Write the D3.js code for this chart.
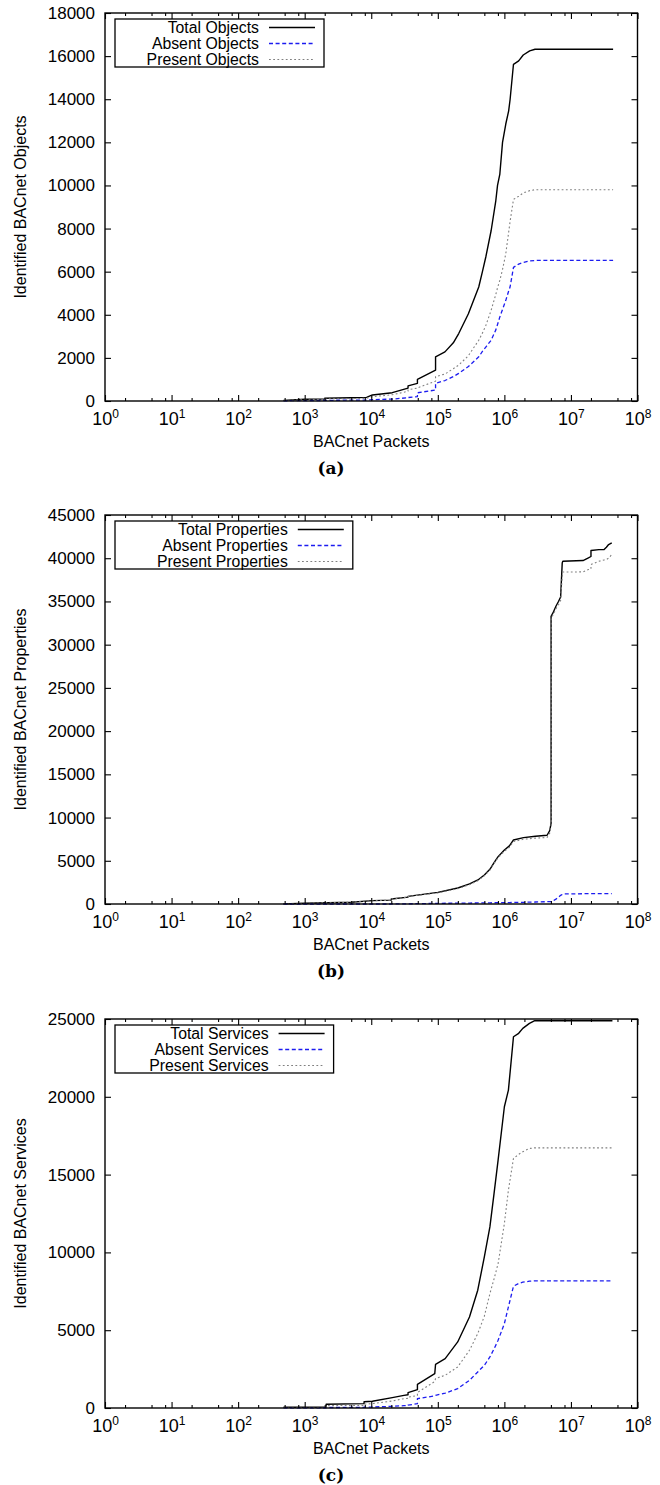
<!DOCTYPE html>
<html>
<head>
<meta charset="utf-8">
<script src="https://cdn.jsdelivr.net/npm/d3@7"></script>
<style>
  html, body { margin: 0; padding: 0; background: #fff; }
  svg { display: block; }
  text { font-family: "Liberation Sans", Arial, Helvetica, sans-serif; fill: #000; }
</style>
</head>
<body>
<script>
// ---------------- DATA ----------------
const xExponents = [0, 1, 2, 3, 4, 5, 6, 7, 8];
const minorMultipliers = [2, 5, 8];

const objYTicks = [0, 2000, 4000, 6000, 8000, 10000, 12000, 14000, 16000, 18000];
const propYTicks = [0, 5000, 10000, 15000, 20000, 25000, 30000, 35000, 40000, 45000];
const svcYTicks = [0, 5000, 10000, 15000, 20000, 25000];

const objLegend = ["Total Objects", "Absent Objects", "Present Objects"];
const propLegend = ["Total Properties", "Absent Properties", "Present Properties"];
const svcLegend = ["Total Services", "Absent Services", "Present Services"];

const yTitles = ["Identified BACnet Objects", "Identified BACnet Properties", "Identified BACnet Services"];
const xTitle = "BACnet Packets";
const captions = ["(a)", "(b)", "(c)"];

// Panel (a) objects
const objPackets = [480, 1000, 2000, 2000, 5000, 8500, 10400, 20700, 35700, 35700, 49400, 49400, 92500, 92500, 128000, 171000, 206000, 288000, 412000, 468000, 526000, 633000, 744000, 789000, 855000, 938000, 1050000, 1160000, 1220000, 1370000, 1640000, 1920000, 2400000, 2890000, 43000000];
const objTotal = [30, 80, 90, 130, 150, 170, 280, 385, 600, 700, 820, 1000, 1430, 2050, 2280, 2700, 3130, 4050, 5290, 6000, 6680, 7910, 9300, 10000, 10530, 12000, 12850, 13460, 14000, 15620, 15780, 16050, 16240, 16320, 16320];
const objAbsent = [10, 20, 25, 30, 40, 45, 60, 90, 150, 160, 200, 380, 510, 820, 950, 1130, 1280, 1600, 2050, 2300, 2500, 2820, 3300, 3550, 3900, 4250, 4670, 5100, 5300, 6200, 6350, 6430, 6500, 6520, 6520];
const objPresent = [20, 60, 65, 100, 110, 125, 200, 290, 450, 520, 600, 610, 920, 1130, 1250, 1500, 1665, 2100, 2820, 3150, 3500, 4210, 4950, 5250, 5600, 6100, 6830, 7830, 8340, 9350, 9500, 9650, 9760, 9800, 9800];

// Panel (b) properties
const propPackets = [480, 1000, 5000, 10400, 20000, 20000, 35700, 35700, 100000, 200000, 300000, 400000, 500000, 606000, 700000, 805000, 1000000, 1190000, 1370000, 1940000, 2930000, 4380000, 4800000, 5030000, 5030000, 5370000, 5950000, 6530000, 7000000, 7400000, 7550000, 15200000, 18300000, 20000000, 20000000, 26300000, 31500000, 34100000, 36800000, 41000000];
const propTotal = [20, 80, 200, 386, 450, 580, 800, 880, 1350, 1850, 2320, 2780, 3360, 4015, 4790, 5480, 6255, 6720, 7410, 7680, 7840, 7950, 8490, 9340, 33280, 33670, 34440, 35020, 35520, 39460, 39650, 39730, 40040, 40200, 40890, 41000, 41004, 41270, 41580, 41780];
const propAbsent = [0, 0, 0, 0, 0, 10, 15, 20, 77, 95, 110, 120, 130, 140, 145, 150, 154, 165, 175, 193, 232, 265, 270, 280, 280, 350, 560, 800, 1004, 1100, 1158, 1190, 1195, 1197, 1197, 1197, 1197, 1197, 1197, 1197];
const propPresent = [20, 80, 200, 380, 440, 570, 790, 870, 1280, 1780, 2240, 2700, 3270, 3920, 4690, 5360, 6100, 6550, 7230, 7490, 7620, 7700, 8200, 9060, 33090, 33450, 34150, 34650, 35100, 37900, 38400, 38420, 38690, 38750, 39270, 39650, 39800, 39850, 40000, 40420];

// Panel (c) services
const svcPackets = [480, 2100, 2100, 7800, 7800, 10400, 20700, 31000, 35700, 35700, 49400, 49400, 90000, 92500, 129000, 199000, 299000, 398000, 500000, 606000, 700000, 805000, 1000000, 1150000, 1370000, 1640000, 1890000, 2380000, 2860000, 42000000];
const svcTotal = [50, 60, 240, 280, 400, 430, 665, 815, 850, 990, 1180, 1520, 2210, 2810, 3170, 4245, 5850, 7570, 9710, 11640, 13790, 15930, 19360, 20430, 23860, 24080, 24400, 24720, 24890, 24890];
const svcAbsent = [10, 15, 30, 40, 60, 64, 107, 150, 160, 180, 279, 600, 780, 815, 950, 1244, 1780, 2316, 2744, 3280, 3800, 4352, 5424, 6496, 7826, 8000, 8083, 8148, 8169, 8169];
const svcPresent = [30, 40, 150, 170, 250, 280, 450, 600, 620, 700, 800, 1000, 1700, 1900, 2100, 2640, 3710, 4780, 5900, 7350, 8300, 9280, 11860, 14000, 16040, 16300, 16470, 16680, 16720, 16720];

// ---------------- LAYOUT ----------------
const W = 660, H = 1485;
const plotLeft = 105, plotRight = 637.5;
const panelTops = [13, 515, 1019];
const panelBottoms = [401, 904, 1408];

const panels = [
  { yTicks: objYTicks, legend: objLegend, x: objPackets, series: [objTotal, objAbsent, objPresent] },
  { yTicks: propYTicks, legend: propLegend, x: propPackets, series: [propTotal, propAbsent, propPresent] },
  { yTicks: svcYTicks, legend: svcLegend, x: svcPackets, series: [svcTotal, svcAbsent, svcPresent] }
];

const styles = [
  { stroke: "#000000", width: 1.4, dash: null },
  { stroke: "#1c1cf0", width: 1.3, dash: "4,2.6" },
  { stroke: "#808080", width: 1.1, dash: "1.8,2.4" }
];

const svg = d3.select("body").append("svg").attr("width", W).attr("height", H);

const majorVals = xExponents.map(e => Math.pow(10, e));
const minorVals = [];
xExponents.slice(0, -1).forEach(e => minorMultipliers.forEach(m => minorVals.push(m * Math.pow(10, e))));

panels.forEach((p, i) => {
  const top = panelTops[i], bottom = panelBottoms[i];
  const x = d3.scaleLog().domain([1, 1e8]).range([plotLeft, plotRight]);
  const y = d3.scaleLinear().domain([0, d3.max(p.yTicks)]).range([bottom, top]);
  const g = svg.append("g");

  // curves
  const line = d3.line().x(d => x(d[0])).y(d => y(d[1]));
  p.series.forEach((vals, k) => {
    const pts = p.x.map((xv, j) => [xv, vals[j]]);
    const path = g.append("path").datum(pts)
      .attr("d", line)
      .attr("fill", "none")
      .attr("stroke", styles[k].stroke)
      .attr("stroke-width", styles[k].width)
      .attr("stroke-linejoin", "round");
    if (styles[k].dash) path.attr("stroke-dasharray", styles[k].dash);
  });

  // bottom axis major
  const gb = g.append("g").attr("transform", `translate(0,${bottom})`)
    .call(d3.axisBottom(x).tickValues(majorVals).tickSize(-6).tickPadding(11).tickFormat(() => ""));
  gb.select(".domain").remove();
  gb.selectAll(".tick text").each(function(d) {
    const t = d3.select(this).attr("font-size", 18).attr("dy", "0.71em");
    t.append("tspan").text("10");
    t.append("tspan").attr("font-size", 12).attr("dy", "-0.55em").text(String(Math.round(Math.log10(d))));
  });
  const gbm = g.append("g").attr("transform", `translate(0,${bottom})`)
    .call(d3.axisBottom(x).tickValues(minorVals).tickSize(-3).tickFormat(() => ""));
  gbm.select(".domain").remove();

  // top axis
  const gt = g.append("g").attr("transform", `translate(0,${top})`)
    .call(d3.axisTop(x).tickValues(majorVals).tickSize(-6).tickFormat(() => ""));
  gt.select(".domain").remove();
  const gtm = g.append("g").attr("transform", `translate(0,${top})`)
    .call(d3.axisTop(x).tickValues(minorVals).tickSize(-3).tickFormat(() => ""));
  gtm.select(".domain").remove();

  // left axis
  const gl = g.append("g").attr("transform", `translate(${plotLeft},0)`)
    .call(d3.axisLeft(y).tickValues(p.yTicks).tickSize(-6).tickPadding(10).tickFormat(d3.format("d")));
  gl.select(".domain").remove();
  gl.selectAll(".tick text").attr("font-size", 17);

  // right axis
  const gr = g.append("g").attr("transform", `translate(${plotRight},0)`)
    .call(d3.axisRight(y).tickValues(p.yTicks).tickSize(-6).tickFormat(() => ""));
  gr.select(".domain").remove();

  g.selectAll(".tick line").attr("stroke", "#000").attr("stroke-width", 1.1);
  g.selectAll("text").attr("font-family", "'Liberation Sans', Arial, sans-serif");

  // frame
  g.append("rect").attr("x", plotLeft).attr("y", top)
    .attr("width", plotRight - plotLeft).attr("height", bottom - top)
    .attr("fill", "none").attr("stroke", "#000").attr("stroke-width", 1.4);

  // legend
  const boxLeft = plotLeft + 10;
  const maxChars = d3.max(p.legend, l => l.length);
  const textRight = boxLeft + maxChars * 9.6;
  const boxTop = top + 6;
  const lg = g.append("g");
  lg.append("rect").attr("x", boxLeft).attr("y", boxTop)
    .attr("width", textRight + 65 - boxLeft).attr("height", 48)
    .attr("fill", "#fff").attr("stroke", "#000").attr("stroke-width", 1.3);
  p.legend.forEach((lab, k) => {
    const cy = boxTop + 8.5 + k * 16;
    lg.append("text").attr("x", textRight).attr("y", cy).attr("dy", "0.35em")
      .attr("text-anchor", "end").attr("font-size", 15.8).text(lab);
    const ln = lg.append("line").attr("x1", textRight + 10).attr("x2", textRight + 56)
      .attr("y1", cy).attr("y2", cy)
      .attr("stroke", styles[k].stroke).attr("stroke-width", styles[k].width);
    if (styles[k].dash) ln.attr("stroke-dasharray", styles[k].dash);
  });

  // axis titles
  g.append("text").attr("x", (plotLeft + plotRight) / 2).attr("y", bottom + 40).attr("dy", "0.35em")
    .attr("text-anchor", "middle").attr("font-size", 16).text(xTitle);
  g.append("text").attr("transform", `translate(20,${(top + bottom) / 2}) rotate(-90)`)
    .attr("dy", "0.35em").attr("text-anchor", "middle").attr("font-size", 16).text(yTitles[i]);

  // caption
  g.append("text").attr("x", 331).attr("y", bottom + 67).attr("dy", "0.35em")
    .attr("text-anchor", "middle").attr("font-size", 17).attr("font-weight", "bold")
    .style("font-family", "'DejaVu Serif', 'Liberation Serif', serif").text(captions[i]);
});
</script>
</body>
</html>
